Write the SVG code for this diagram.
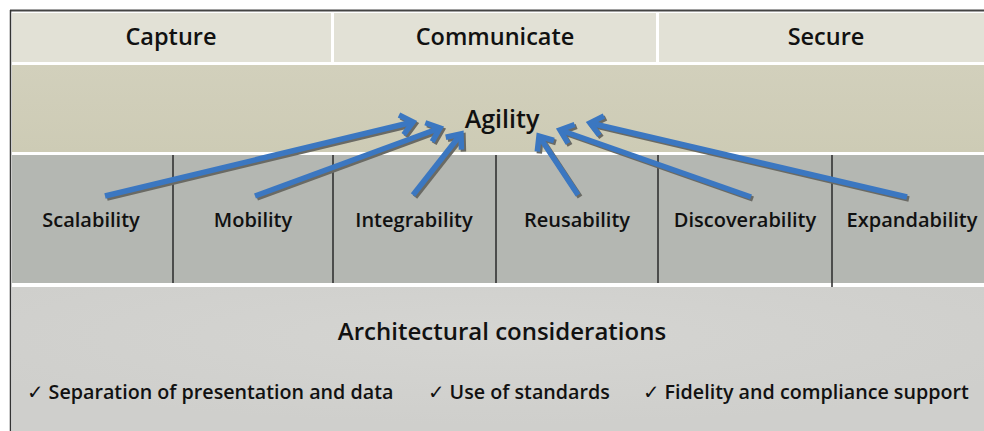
<svg xmlns="http://www.w3.org/2000/svg" width="984" height="431" viewBox="0 0 984 431">
  <defs>
    <style>
      .hdr { fill: #e2e1d6; }
      .cell { fill: #b4b7b2; }
      .sep { stroke: #2a2a2a; stroke-width: 1.5; }
      .t { font-family: "Open Sans", "Noto Sans", "DejaVu Sans", sans-serif; font-weight: 600; fill: #111; text-anchor: middle; }
      .h { font-size: 23.5px; }
      .lbl { font-size: 20px; }
      .bul { font-size: 19.7px; text-anchor: start; }
      .arr line { stroke-width: 5.5; fill: none; }
      .blue line { stroke: #3b77c1; marker-end: url(#headBlue); }
      .shadow line { stroke: #6a6a64; marker-end: url(#headShadow); }
    </style>
    <marker id="headBlue" markerUnits="userSpaceOnUse" viewBox="-20 -15 30 30" markerWidth="30" markerHeight="30" refX="0" refY="0" orient="auto" overflow="visible">
      <path d="M-12 -10 L0 0 L-12 10" fill="none" stroke="#3b77c1" stroke-width="5.5" stroke-linejoin="miter"/>
    </marker>
    <marker id="headShadow" markerUnits="userSpaceOnUse" viewBox="-20 -15 30 30" markerWidth="30" markerHeight="30" refX="0" refY="0" orient="auto" overflow="visible">
      <path d="M-12 -10 L0 0 L-12 10" fill="none" stroke="#6a6a64" stroke-width="5.5" stroke-linejoin="miter"/>
    </marker>
    <linearGradient id="bandGrad" x1="0" y1="0" x2="0" y2="1">
      <stop offset="0" stop-color="#d2d0bc"/>
      <stop offset="1" stop-color="#cdcbb5"/>
    </linearGradient>
    <radialGradient id="baseGrad" cx="0.5" cy="0.35" r="0.6">
      <stop offset="0" stop-color="#d5d5d2"/>
      <stop offset="1" stop-color="#cfcfcc"/>
    </radialGradient>
  </defs>

  <rect x="0" y="0" width="984" height="431" fill="#ffffff"/>

  <!-- outer frame -->
  <line x1="10" y1="10.5" x2="984" y2="10.5" stroke="#444" stroke-width="2"/>
  <line x1="10.5" y1="10" x2="10.5" y2="431" stroke="#333" stroke-width="1.5"/>

  <!-- header row -->
  <g id="capture">
    <rect class="hdr" x="12" y="13" width="319" height="49"/>
    <text class="t h" x="171" y="45">Capture</text>
  </g>
  <g id="communicate">
    <rect class="hdr" x="334" y="13" width="322" height="49"/>
    <text class="t h" x="495" y="45">Communicate</text>
  </g>
  <g id="secure">
    <rect class="hdr" x="659" y="13" width="325" height="49"/>
    <text class="t h" x="826" y="45">Secure</text>
  </g>

  <!-- agility band -->
  <g id="agility">
    <rect x="12" y="65" width="972" height="87" fill="url(#bandGrad)"/>
    <text class="t" x="502" y="128" font-size="25">Agility</text>
  </g>

  <!-- quality cells -->
  <g id="scalability">
    <rect class="cell" x="12" y="155" width="161" height="128"/>
    <text class="t lbl" x="91" y="227">Scalability</text>
  </g>
  <g id="mobility">
    <rect class="cell" x="173" y="155" width="160" height="128"/>
    <text class="t lbl" x="253" y="227">Mobility</text>
  </g>
  <g id="integrability">
    <rect class="cell" x="333" y="155" width="163" height="128"/>
    <text class="t lbl" x="414" y="227">Integrability</text>
  </g>
  <g id="reusability">
    <rect class="cell" x="496" y="155" width="162" height="128"/>
    <text class="t lbl" x="577" y="227">Reusability</text>
  </g>
  <g id="discoverability">
    <rect class="cell" x="658" y="155" width="174" height="128"/>
    <text class="t lbl" x="745" y="227">Discoverability</text>
  </g>
  <g id="expandability">
    <rect class="cell" x="832" y="155" width="152" height="128"/>
    <text class="t lbl" x="912" y="227">Expandability</text>
  </g>
  <g id="cell-dividers">
    <line class="sep" x1="173" y1="155" x2="173" y2="283"/>
    <line class="sep" x1="333" y1="155" x2="333" y2="283"/>
    <line class="sep" x1="496" y1="155" x2="496" y2="283"/>
    <line class="sep" x1="658" y1="155" x2="658" y2="283"/>
    <line class="sep" x1="832" y1="155" x2="832" y2="290"/>
  </g>

  <!-- architectural considerations -->
  <g id="considerations">
    <rect x="12" y="287" width="972" height="144" fill="url(#baseGrad)"/>
    <text class="t" x="502" y="340" font-size="24">Architectural considerations</text>
    <text class="t bul" x="27" y="399">✓ Separation of presentation and data</text>
    <text class="t bul" x="428" y="399">✓ Use of standards</text>
    <text class="t bul" x="643" y="399">✓ Fidelity and compliance support</text>
  </g>

  <!-- connectors: each quality feeds into agility -->
  <g id="connectors" class="arr">
    <g class="shadow" transform="translate(2,2)">
      <line x1="105" y1="196" x2="413" y2="122"/>
      <line x1="255" y1="196" x2="440" y2="128"/>
      <line x1="413" y1="195" x2="461" y2="134"/>
      <line x1="578" y1="195" x2="539" y2="136"/>
      <line x1="751" y1="197" x2="560" y2="130"/>
      <line x1="907" y1="197" x2="590" y2="123"/>
    </g>
    <g class="blue">
      <line x1="105" y1="196" x2="413" y2="122"/>
      <line x1="255" y1="196" x2="440" y2="128"/>
      <line x1="413" y1="195" x2="461" y2="134"/>
      <line x1="578" y1="195" x2="539" y2="136"/>
      <line x1="751" y1="197" x2="560" y2="130"/>
      <line x1="907" y1="197" x2="590" y2="123"/>
    </g>
  </g>
</svg>
